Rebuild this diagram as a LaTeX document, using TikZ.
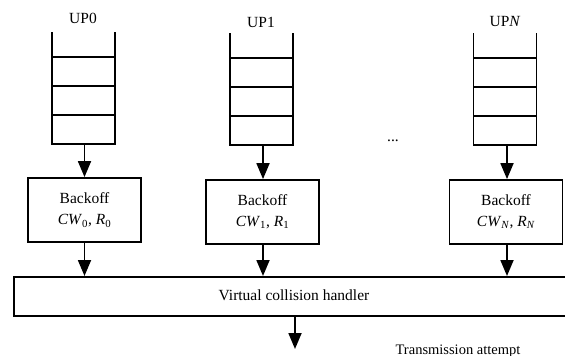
\documentclass[tikz,border=0pt]{standalone}
\usepackage{fontspec}
\setmainfont{Liberation Serif}
\usetikzlibrary{arrows.meta}
\tikzset{
  line/.style={line width=1.8pt},
  cell/.style={draw, line width=1.8pt, minimum width=63pt, minimum height=29pt, inner sep=0pt, outer sep=0pt},
  boxnode/.style={draw, line width=1.8pt, minimum width=113pt, minimum height=64pt, inner sep=0pt, align=center,
    font=\fontsize{15.5}{21}\selectfont},
  label/.style={font=\fontsize{15.5}{18}\selectfont, inner sep=0pt},
  flow/.style={line width=1.8pt, -{Triangle[width=13pt,length=16pt]}}
}
\begin{document}
\begin{tikzpicture}[x=1pt,y=-1pt]
\useasboundingbox (0,0) rectangle (565,356);
\clip (0,0) rectangle (565,356);
\fill[white] (0,0) rectangle (565,356);

% queue UP0
\node[cell] (q0a) at (83.5,71.5) {};
\node[cell] (q0b) at (83.5,100.5) {};
\node[cell] (q0c) at (83.5,129.5) {};
\coordinate (q0l) at (52,32);
\coordinate (q0r) at (115,32);
\draw[line] (q0l) -- (q0a.north west);
\draw[line] (q0r) -- (q0a.north east);
\node[label] (up0) at (83,18) {UP0};

% queue UP1
\node[cell] (q1a) at (261.5,72.5) {};
\node[cell] (q1b) at (261.5,101.5) {};
\node[cell] (q1c) at (261.5,130.5) {};
\coordinate (q1l) at (230,33);
\coordinate (q1r) at (293,33);
\draw[line] (q1l) -- (q1a.north west);
\draw[line] (q1r) -- (q1a.north east);
\node[label] (up1) at (261,22) {UP1};

% queue UPN
\node[cell] (qNa) at (505,72.5) {};
\node[cell] (qNb) at (505,101.5) {};
\node[cell] (qNc) at (505,130.5) {};
\coordinate (qNl) at (473.5,33);
\coordinate (qNr) at (536.5,33);
\draw[line] (qNl) -- (qNa.north west);
\draw[line] (qNr) -- (qNa.north east);
\node[label] (upN) at (505,22) {UP\textit{N}};

\node[label] (dots) at (393,141) {...};

% backoff stages
\node[boxnode] (b0) at (84.5,210) {Backoff\\\textit{CW}\textsubscript{0}, \textit{R}\textsubscript{0}};
\node[boxnode] (b1) at (262.5,212) {Backoff\\\textit{CW}\textsubscript{1}, \textit{R}\textsubscript{1}};
\node[boxnode] (bN) at (506,212) {Backoff\\\textit{CW}\textsubscript{\textit{N}}, \textit{R}\textsubscript{\textit{N}}};

% collision handler
\node[draw, line width=1.6pt, minimum width=567pt, minimum height=39pt, inner sep=0pt, anchor=north west] (vch) at (13,276) {};
\node[label] (vchtext) at (294,295) {Virtual collision handler};

% arrows
\coordinate (a1) at (263,0);
\coordinate (aN) at (507,0);
\draw[flow] (q0c.south -| b0.north) -- (b0.north);
\draw[flow] (q1c.south -| a1) -- (b1.north -| a1);
\draw[flow] (qNc.south -| aN) -- (bN.north -| aN);
\draw[flow] (b0.south) -- (b0.south |- vch.north);
\draw[flow] (b1.south -| a1) -- (vch.north -| a1);
\draw[flow] (bN.south -| aN) -- (vch.north -| aN);
\coordinate (out) at (295,349);
\draw[flow] (vch.south -| out) -- (out);

\node[font=\fontsize{14.5}{17}\selectfont, inner sep=0pt] (tx) at (458,351) {Transmission attempt};
\end{tikzpicture}
\end{document}
